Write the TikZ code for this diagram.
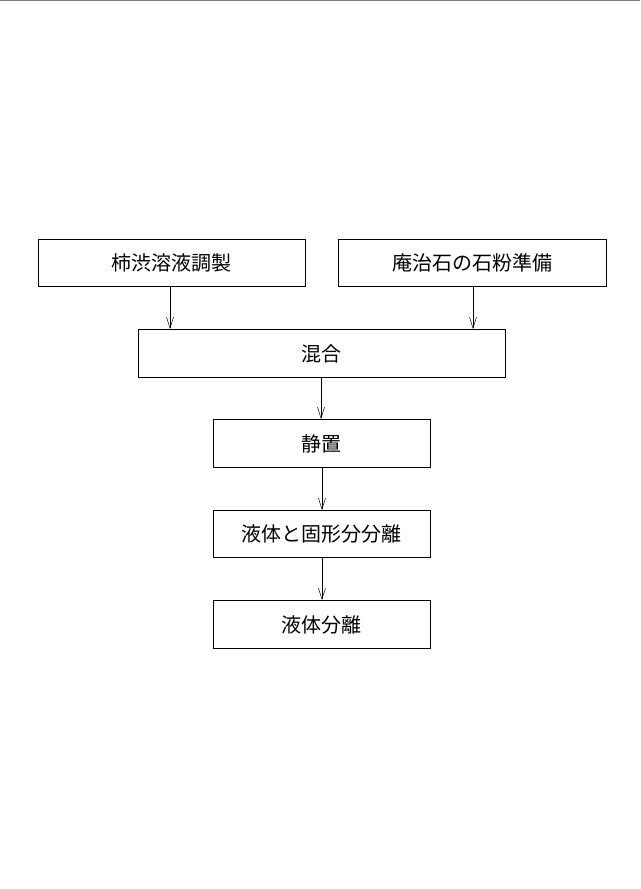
\documentclass[tikz,border=0pt]{standalone}
\usepackage{fontspec}
\newfontfamily\cjk{Noto Sans CJK JP}
\usetikzlibrary{arrows.meta}
\begin{document}
\begin{tikzpicture}[x=1pt,y=-1pt,
  stepbox/.style={draw,line width=0.9pt,anchor=north west,inner sep=0pt,font=\cjk\fontsize{20}{20}\selectfont},
  arr/.style={-{Straight Barb[length=11pt,width=7pt,line width=0.5pt]},line width=0.5pt}]
\useasboundingbox (0,0) rectangle (640,889);
\draw[line width=0.8pt,gray] (0,0.5) -- (640,0.5);
\node[stepbox,minimum width=267pt,minimum height=47pt] (a) at (38,239) {柿渋溶液調製};
\node[stepbox,minimum width=268pt,minimum height=47pt] (b) at (338,239) {庵治石の石粉準備};
\node[stepbox,minimum width=367pt,minimum height=48pt] (c) at (138,329) {混合};
\node[stepbox,minimum width=217pt,minimum height=48pt] (d) at (213,419) {静置};
\node[stepbox,minimum width=217pt,minimum height=47pt] (e) at (213,510) {液体と固形分分離};
\node[stepbox,minimum width=217pt,minimum height=48pt] (f) at (213,600) {液体分離};
\draw[arr] (a.south west) ++(132,0) coordinate (a1) -- (a1 |- c.north);
\draw[arr] (b.south west) ++(135,0) coordinate (b1) -- (b1 |- c.north);
\draw[arr] (c.south west) ++(183,0) coordinate (c1) -- (c1 |- d.north);
\draw[arr] (d.south) -- (e.north);
\draw[arr] (e.south) -- (f.north);
\end{tikzpicture}
\end{document}
